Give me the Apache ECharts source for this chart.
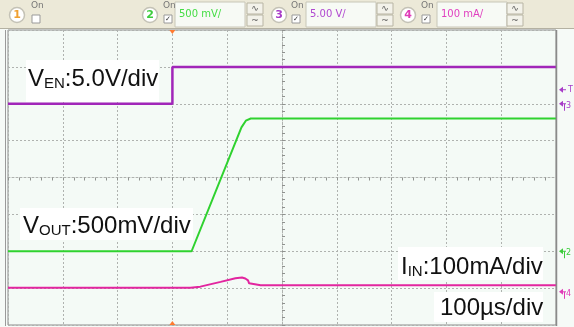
<!DOCTYPE html>
<html>
<head>
<meta charset="utf-8">
<script src="https://cdn.jsdelivr.net/npm/echarts@6/dist/echarts.min.js"></script>
<style>
  html, body { margin: 0; padding: 0; background: #f6faf7; }
  #c { width: 574px; height: 327px; }
</style>
</head>
<body>
<div id="c"></div>
<script>
// Time base: µs relative to the trigger, 100 µs per division
const timeMin = -300;
const timeMax = 700;

// Channel 3 – enable voltage (V)
const enTime  = [-300, 0, 0, 700];
const enVolts = [0, 0, 5, 5];

// Channel 2 – output voltage (V)
const voutTime  = [-300, 35, 126, 134, 143, 700];
const voutVolts = [0, 0, 1.68, 1.77, 1.8, 1.8];

// Channel 4 – input current (mA)
const iinTime      = [-300, 33, 51, 88, 115, 127, 133, 136, 138, 140, 143, 161, 400, 700];
const iinMilliamps = [11, 11, 14, 27, 37, 39, 36, 32, 31, 23, 20, 18, 18, 18];

// Vertical settings: units per division and ground level (divisions above the bottom)
const enPerDiv = 5,     enGroundDiv = 6;
const voutPerDiv = 0.5, voutGroundDiv = 2;
const iinPerDiv = 100,  iinGroundDiv = 0.9;
const trigLevel = 1.9;  // V on channel 3

// Screen graticule
const xDivs = 10, yDivs = 8;

// Toolbar and annotation texts
const chanNumbers = ['1', '2', '3', '4'];
const chanScales  = ['', '500 mV/', '5.00 V/', '100 mA/'];
const enLabel   = ['V', 'EN', ':5.0V/div'];
const voutLabel = ['V', 'OUT', ':500mV/div'];
const iinLabel  = ['I', 'IN', ':100mA/div'];
const timeLabel = '100µs/div';

const colEN = '#a126b9', colVOUT = '#2fd22f', colIIN = '#e2259f';
const chanColors = ['#f0a030', '#3ccc3c', '#a83cc8', '#e03cb8'];
const scaleTextColors = ['', '#44dd44', '#b048d0', '#e040c0'];

const zip = (a, b) => a.map((v, i) => [v, b[i]]);
const axisFor = (perDiv, groundDiv) => ({
  type: 'value', show: false,
  min: -groundDiv * perDiv, max: (yDivs - groundDiv) * perDiv,
  splitLine: { show: false }
});

const gridColor = '#afb2af';
const tickColor = '#8f928f';
const chart = echarts.init(document.getElementById('c'));

chart.setOption({
  animation: false,
  backgroundColor: '#f6faf7',
  grid: {
    left: 8, top: 30, width: 548, height: 295,
    show: true, backgroundColor: '#f4faf6',
    borderColor: '#8c8c8c', borderWidth: 1
  },
  xAxis: [
    { type: 'value', show: false, min: timeMin, max: timeMax, splitLine: { show: false } },
    {
      type: 'value', min: -xDivs / 2, max: xDivs / 2, interval: 1,
      axisLabel: { show: false },
      axisLine: { show: true, onZero: true, onZeroAxisIndex: 3,
                  lineStyle: { color: gridColor, type: [2, 2] } },
      axisTick: { show: true, inside: true, length: 3, lineStyle: { color: tickColor } },
      minorTick: { show: true, splitNumber: 5, length: 3, lineStyle: { color: tickColor } },
      splitLine: { show: true, lineStyle: { color: gridColor, type: [2, 2] } }
    }
  ],
  yAxis: [
    axisFor(enPerDiv, enGroundDiv),
    axisFor(voutPerDiv, voutGroundDiv),
    axisFor(iinPerDiv, iinGroundDiv),
    {
      type: 'value', position: 'left', min: -yDivs / 2, max: yDivs / 2, interval: 1,
      axisLabel: { show: false },
      axisLine: { show: true, onZero: true, onZeroAxisIndex: 1,
                  lineStyle: { color: gridColor, type: [2, 2] } },
      axisTick: { show: true, inside: true, length: 3, lineStyle: { color: tickColor } },
      minorTick: { show: true, splitNumber: 5, length: 3, lineStyle: { color: tickColor } },
      splitLine: { show: true, lineStyle: { color: gridColor, type: [2, 2] } }
    }
  ],
  series: [
    { type: 'line', xAxisIndex: 0, yAxisIndex: 0, data: zip(enTime, enVolts),
      showSymbol: false, silent: true, lineStyle: { color: colEN, width: 2.5 } },
    { type: 'line', xAxisIndex: 0, yAxisIndex: 1, data: zip(voutTime, voutVolts),
      showSymbol: false, silent: true, lineStyle: { color: colVOUT, width: 2 } },
    { type: 'line', xAxisIndex: 0, yAxisIndex: 2, data: zip(iinTime, iinMilliamps),
      showSymbol: false, silent: true, lineStyle: { color: colIIN, width: 2 } }
  ]
});

// ---- overlay: toolbar, labels and channel markers ----
const g = [];

// toolbar strip
g.push({ type: 'rect', shape: { x: 0, y: 0, width: 574, height: 28 }, style: { fill: '#ece9d8' }, z: 100 });
g.push({ type: 'line', shape: { x1: 0, y1: 28.5, x2: 574, y2: 28.5 }, style: { stroke: '#b4b1a2', lineWidth: 1 }, z: 100 });

const circleX = [17, 150, 279, 408];
const onX     = [32, 164, 292, 422];
const boxX    = [0, 175, 306, 437];
const btnX    = [0, 247, 377, 507];
chanNumbers.forEach((n, i) => {
  g.push({ type: 'circle', shape: { cx: circleX[i], cy: 15, r: 7.5 },
           style: { fill: '#ffffff', stroke: '#c4c2b6', lineWidth: 1.5 }, z: 101 });
  g.push({ type: 'text', x: circleX[i], y: 15.5, z: 102,
           style: { text: n, fill: chanColors[i], font: 'bold 11px "DejaVu Sans"', align: 'center', verticalAlign: 'middle' } });
  g.push({ type: 'text', x: onX[i] - 1, y: 6, z: 102,
           style: { text: 'On', fill: '#777', font: '9px "DejaVu Sans"', align: 'left', verticalAlign: 'middle' } });
  g.push({ type: 'rect', shape: { x: onX[i], y: 15, width: 8, height: 8 },
           style: { fill: '#fff', stroke: '#999', lineWidth: 1 }, z: 101 });
  if (i > 0) {
    g.push({ type: 'text', x: onX[i] + 4, y: 19.5, z: 102,
             style: { text: '✓', fill: '#333', font: 'bold 7px "DejaVu Sans"', align: 'center', verticalAlign: 'middle' } });
    g.push({ type: 'rect', shape: { x: boxX[i], y: 2, width: 70, height: 25 },
             style: { fill: '#f7faf5', stroke: '#c8c6b8', lineWidth: 1 }, z: 101 });
    g.push({ type: 'text', x: boxX[i] + 4, y: 14, z: 102,
             style: { text: chanScales[i], fill: scaleTextColors[i], font: '10px "DejaVu Sans"', align: 'left', verticalAlign: 'middle' } });
    ['∿', '~'].forEach((s, k) => {
      g.push({ type: 'rect', shape: { x: btnX[i], y: 3 + k * 12, width: 16, height: 11 },
               style: { fill: '#f3f2ea', stroke: '#b8b5a4', lineWidth: 1 }, z: 101 });
      g.push({ type: 'text', x: btnX[i] + 8, y: 8.5 + k * 12, z: 102,
               style: { text: s, fill: '#555', font: '9px "DejaVu Sans"', align: 'center', verticalAlign: 'middle' } });
    });
  }
});

// outer frame lines
g.push({ type: 'line', shape: { x1: 5.5, y1: 30, x2: 5.5, y2: 326 }, style: { stroke: '#9a9a9a', lineWidth: 1 }, z: 100 });
g.push({ type: 'line', shape: { x1: 556.5, y1: 30, x2: 556.5, y2: 326 }, style: { stroke: '#8a8a8a', lineWidth: 1.5 }, z: 100 });

// scale annotations
function richLabel(parts, x, y, boxRect) {
  g.push({ type: 'rect', shape: boxRect, style: { fill: '#ffffff' }, z: 110 });
  g.push({
    type: 'text', x: x, y: y, z: 111,
    style: {
      text: '{m|' + parts[0] + '}{s|' + parts[1] + '}{m|' + parts[2] + '}',
      align: 'left', verticalAlign: 'middle',
      rich: {
        m: { fontSize: 24, fontFamily: '"Liberation Sans", Arial', fill: '#111', lineHeight: 26, verticalAlign: 'bottom' },
        s: { fontSize: 15, fontFamily: '"Liberation Sans", Arial', fill: '#111', lineHeight: 13, verticalAlign: 'bottom' }
      }
    }
  });
}
richLabel(enLabel, 28, 78.5, { x: 26, y: 60, width: 133, height: 42 });
richLabel(voutLabel, 23, 225, { x: 20, y: 208, width: 173, height: 32 });
richLabel(iinLabel, 401, 266.5, { x: 398, y: 247, width: 145, height: 33 });
g.push({ type: 'rect', shape: { x: 434, y: 292, width: 109, height: 30 }, style: { fill: '#ffffff' }, z: 110 });
g.push({ type: 'text', x: 440, y: 308, z: 111,
         style: { text: timeLabel, font: '24px "Liberation Sans", Arial', fill: '#111', align: 'left', verticalAlign: 'middle' } });

// trigger position markers (top and bottom of the screen)
const tx = chart.convertToPixel({ xAxisIndex: 0 }, 0);
g.push({ type: 'polygon', shape: { points: [[tx - 3, 30], [tx + 3, 30], [tx, 34]] }, style: { fill: '#ff7a30' }, z: 105 });
g.push({ type: 'polygon', shape: { points: [[tx - 3, 325], [tx + 3, 325], [tx, 321]] }, style: { fill: '#ff7a30' }, z: 105 });

// ground / trigger-level markers on the right edge
function edgeMarker(y, color, label, withStem) {
  g.push({ type: 'polygon', shape: { points: [[559, y], [563, y - 3], [563, y + 3]] }, style: { fill: color }, z: 105 });
  g.push({ type: 'line', shape: { x1: 563, y1: y, x2: 566, y2: y }, style: { stroke: color, lineWidth: 1 }, z: 105 });
  if (withStem) {
    g.push({ type: 'line', shape: { x1: 564.5, y1: y, x2: 564.5, y2: y + 7 }, style: { stroke: color, lineWidth: 1 }, z: 105 });
  }
  g.push({ type: 'text', x: withStem ? 566 : 568, y: y + (withStem ? 2 : 0), z: 106,
           style: { text: label, fill: color, font: '8px "DejaVu Sans"', align: 'left', verticalAlign: 'middle' } });
}
edgeMarker(chart.convertToPixel({ yAxisIndex: 0 }, trigLevel), '#a83cc8', 'T', false);
edgeMarker(chart.convertToPixel({ yAxisIndex: 0 }, 0), '#a83cc8', '3', true);
edgeMarker(chart.convertToPixel({ yAxisIndex: 1 }, 0), '#3ccc3c', '2', true);
edgeMarker(chart.convertToPixel({ yAxisIndex: 2 }, 0), '#e03cb8', '4', true);

chart.setOption({ graphic: { elements: g } });
</script>
</body>
</html>
